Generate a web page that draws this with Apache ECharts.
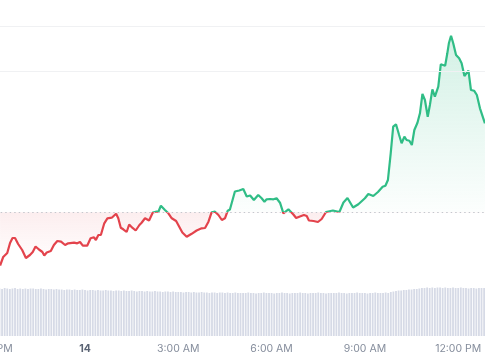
<!DOCTYPE html>
<html><head><meta charset="utf-8">
<script src="https://cdn.jsdelivr.net/npm/echarts@6/dist/echarts.min.js"></script>
<style>html,body{margin:0;padding:0;background:#fff}#c{width:485px;height:360px}</style>
</head><body><div id="c"></div>
<script>
// Hours relative to midnight of the 14th
const priceHours = [-2.73,-2.63,-2.50,-2.41,-2.33,-2.25,-2.15,-2.02,-1.90,-1.77,-1.68,-1.59,-1.48,-1.37,-1.31,-1.23,-1.10,-1.00,-0.89,-0.77,-0.64,-0.54,-0.35,-0.25,-0.16,-0.07,0.07,0.18,0.29,0.35,0.43,0.51,0.62,0.72,0.86,1.00,1.07,1.15,1.23,1.34,1.42,1.52,1.63,1.75,1.82,1.93,2.06,2.18,2.28,2.36,2.44,2.57,2.68,2.79,2.93,3.03,3.13,3.27,3.43,3.59,3.75,3.86,3.97,4.07,4.18,4.29,4.40,4.50,4.59,4.66,4.72,4.82,4.96,5.09,5.20,5.31,5.43,5.57,5.68,5.77,5.84,5.95,6.06,6.16,6.27,6.38,6.54,6.70,6.79,6.91,7.04,7.13,7.20,7.35,7.49,7.61,7.75,7.97,8.18,8.31,8.44,8.62,8.79,9.00,9.11,9.27,9.42,9.57,9.66,9.74,9.83,9.91,10.00,10.10,10.18,10.27,10.34,10.43,10.51,10.59,10.69,10.77,10.85,10.93,11.02,11.09,11.17,11.25,11.36,11.44,11.58,11.65,11.70,11.77,11.84,11.93,12.03,12.11,12.20,12.33,12.41,12.51,12.60,12.70,12.86];
const priceValues = [34.5,43,47,57,62,62,56,50,42,45,48,53.5,50.5,48,44.5,47.5,49,55,59,58.3,55,56.7,57.3,56.7,58,54.3,54.3,61.7,62.7,60,65,65,76.7,81.7,82.3,86.3,81.7,72.3,70.7,68,75.5,72.3,69.5,75,77.3,81.7,79.5,87.5,88.3,88.3,94.2,90,86.7,81.7,79,73.3,67.5,63.2,66.2,69.5,71.7,72,78.3,87.7,88.3,85,80,81.7,89.3,90.5,88.5,108.5,109.5,111,103.5,104.5,100,105,101.7,98.3,100.7,101,100.7,101.7,97.3,86.7,90.7,85.5,82,83.5,85,84,79.5,79,78,81,88,89.5,88,97.5,102,92.5,95.8,101.7,106,104,108,113.3,114.3,120,146.7,173.3,175.7,165,156.7,163.3,160,159.3,155,170,177.3,186.7,206,200,183.3,195,210.7,203.3,213.3,235.7,234.3,246.7,256.7,264.3,256.7,245,241.7,236.7,224,229.3,210,209.3,205,191.7,176.7];
const baseline = 87.7;
const gridValues = [274, 229];

const volumeStartHour = -2.75;
const volumeStepHour = 1 / 12;
const volumeValues = [
47.5,47,48,47.5,47,47.5,48,47,47.5,47,47.5,47,47.5,47.5,47,47,47.5,47,46.5,47,47,46.5,47,46.5,
46.5,46,46.5,46.5,46,46.5,46,46,46.5,46,45.5,46,46,45.5,46,45.5,45.5,46,45.5,45.5,45,45.5,45.5,
45,45.5,45,45,45.5,45,44.5,45,45,44.5,45,44.5,44.5,45,44.5,44.5,44,44.5,44.5,44,44.5,44,44,
44,43.5,44,44,43.5,44,43.5,43.5,44,43.5,43.5,43,43.5,43.5,43,43.5,43.5,43,43.5,43,43,43.5,43,43,
43,43,43.5,43,43,42.5,43,43,43.5,43,
43,43,42.5,43,43,43.5,43,43,42.5,43,
43,43,43.5,43,43,42.5,43,43,43,43.5,
43,43,42.5,43,43,43,43,43.5,43,43,
42.5,43,43,43,43.5,43,43,43,42.5,43,
43,43.5,43,43,43,43.5,43,
44,44.5,45,45.5,45.5,46,46,46.5,46.5,47,47,
47.5,48,48,48.5,48,48.5,48,48.5,48.5,48,48.5,48,48,48.5,48,48,48.5,48,48,47.5,48,48,47.5,48,48,48
];

const tickHours = [-3, 0, 3, 6, 9, 12];
const tickLabels = ['9:00 PM', '14', '3:00 AM', '6:00 AM', '9:00 AM', '12:00 PM'];

const GREEN = '#30bd86';
const RED = '#e3434c';

const priceData = priceHours.map((h, i) => [h, priceValues[i]]);
const volumeData = volumeValues.map((v, i) => [volumeStartHour + i * volumeStepHour, v]);

const maxV = Math.max(...priceValues, baseline);
const minV = Math.min(...priceValues, baseline);
const off = (maxV - baseline) / (maxV - minV);

const chart = echarts.init(document.getElementById('c'));
chart.setOption({
  animation: false,
  grid: [
    {left: -8.3, right: -4.3, top: 26, bottom: 60, outerBoundsMode: 'none', containLabel: false},
    {left: -8.3, right: -4.3, top: 280, bottom: 24, outerBoundsMode: 'none', containLabel: false}
  ],
  xAxis: [
    {type: 'value', gridIndex: 0, min: -3, max: 13, interval: 3, show: false},
    {type: 'value', gridIndex: 1, min: -3, max: 13, interval: 3,
     axisLine: {show: false}, axisTick: {show: false}, splitLine: {show: false},
     axisLabel: {
       margin: 7, color: '#858d9c', fontSize: 10.5, fontFamily: 'Inter',
       showMaxLabel: false, showMinLabel: true, hideOverlap: false,
       formatter: function (val) {
         const idx = tickHours.indexOf(Math.round(val * 1000) / 1000);
         if (idx < 0) return '';
         if (tickHours[idx] === 0) return '{b|' + tickLabels[idx] + '}';
         return tickLabels[idx];
       },
       rich: {b: {fontWeight: 'bold', color: '#5b6474', fontSize: 10.5, fontFamily: 'Inter'}}
     }}
  ],
  yAxis: [
    {type: 'value', gridIndex: 0, min: 0, max: 274, show: false},
    {type: 'value', gridIndex: 1, min: 0, max: 56, show: false}
  ],
  visualMap: {
    type: 'piecewise', show: false, seriesIndex: 0, dimension: 1,
    pieces: [{gte: 0, lt: baseline, color: RED}, {gte: baseline, lte: 274, color: GREEN}]
  },
  series: [
    {
      type: 'line', xAxisIndex: 0, yAxisIndex: 0, data: priceData,
      symbol: 'none', showSymbol: false, z: 3,
      lineStyle: {width: 2.2},
      areaStyle: {
        origin: baseline,
        color: new echarts.graphic.LinearGradient(0, 0, 0, 1, [
          {offset: 0, color: 'rgba(48,189,134,0.30)'},
          {offset: off, color: 'rgba(48,189,134,0.02)'},
          {offset: off, color: 'rgba(227,67,76,0.13)'},
          {offset: 1, color: 'rgba(227,67,76,0.0)'}
        ])
      },
      markLine: {
        silent: true, symbol: 'none', label: {show: false},
        data: [
          {yAxis: gridValues[0], lineStyle: {color: '#f0f1f3', type: 'solid', width: 1}},
          {yAxis: gridValues[1], lineStyle: {color: '#f0f1f3', type: 'solid', width: 1}},
          {yAxis: baseline, lineStyle: {color: '#c4c7cd', type: [1.5, 3], width: 1}}
        ]
      }
    },
    {
      type: 'bar', xAxisIndex: 1, yAxisIndex: 1, data: volumeData,
      barWidth: 1.8, itemStyle: {color: '#d6dae6'}
    }
  ]
});
</script>
</body></html>
